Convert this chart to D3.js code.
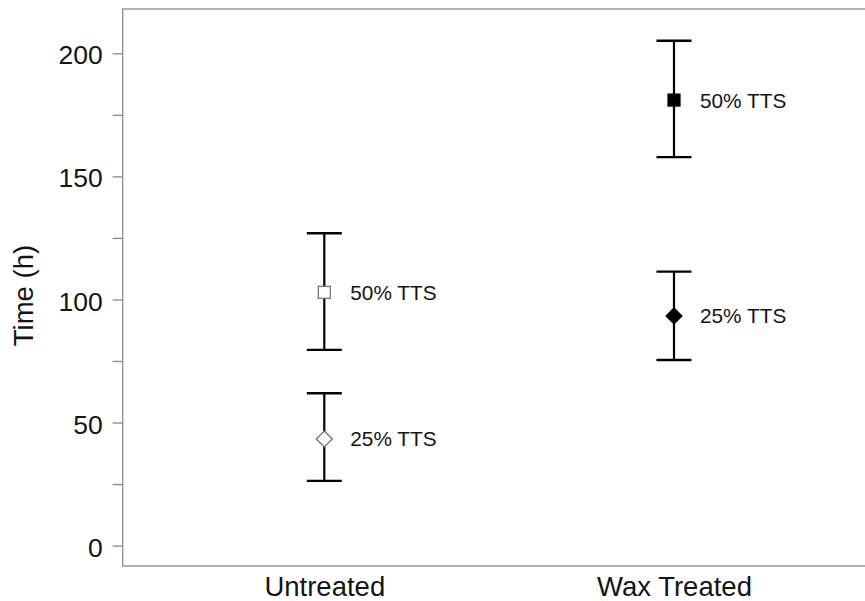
<!DOCTYPE html>
<html>
<head>
<meta charset="utf-8">
<script src="https://cdn.jsdelivr.net/npm/d3@7/dist/d3.min.js"></script>
<style>
  html, body { margin: 0; padding: 0; background: #fff; }
  svg { display: block; font-family: "Liberation Sans", Arial, sans-serif; }
</style>
</head>
<body>
<svg id="chart" width="865" height="601"></svg>
<script>
// Treatment groups along the x axis
const groups = ["Untreated", "Wax Treated"];

// Time to 50% and 25% TTS (hours): point estimate with lower/upper interval
const tts50Mean  = [102.9, 181.0];
const tts50Lower = [79.5, 157.8];
const tts50Upper = [126.9, 205.1];

const tts25Mean  = [43.3, 93.3];
const tts25Lower = [26.3, 75.4];
const tts25Upper = [61.9, 111.3];

const seriesLabels = ["50% TTS", "25% TTS"];

// Y axis ticks: labelled majors and unlabelled minors
const majorTicks = [0, 50, 100, 150, 200];
const minorTicks = [25, 75, 125, 175];

const svg = d3.select("#chart");

const box = { left: 122.7, top: 9, right: 875.6, bottom: 566 };

const x = d3.scaleLinear().domain([0.4235, 2.5765]).range([box.left, box.right]);
const y = d3.scaleLinear().domain([-8.3, 218]).range([box.bottom, box.top]);

const axisColor = "#8a8a8a";
const textColor = "#141414";

// Plot frame (top, left, bottom, right)
svg.append("rect")
  .attr("x", box.left).attr("y", box.top)
  .attr("width", box.right - box.left).attr("height", box.bottom - box.top)
  .attr("fill", "none").attr("stroke", axisColor).attr("stroke-width", 1.3);

// Y axis ticks
const yAxis = d3.axisLeft(y)
  .tickValues(majorTicks.concat(minorTicks))
  .tickSize(10)
  .tickPadding(10)
  .tickFormat(d => majorTicks.includes(d) ? d3.format("d")(d) : "");

const gy = svg.append("g")
  .attr("transform", `translate(${box.left},0)`)
  .call(yAxis);
gy.select(".domain").remove();
gy.selectAll(".tick line").attr("stroke", axisColor).attr("stroke-width", 1.3);
gy.selectAll(".tick text")
  .attr("fill", textColor)
  .style("font-size", "26.5px")
  .attr("dy", "0.4em");

// X axis category labels
const gx = svg.append("g")
  .attr("transform", `translate(0,${box.bottom})`)
  .call(d3.axisBottom(x).tickValues([1, 2]).tickSize(0).tickPadding(24)
    .tickFormat((d, i) => groups[i]));
gx.select(".domain").remove();
gx.selectAll(".tick text")
  .attr("fill", textColor)
  .style("font-size", "27.5px")
  .attr("dy", "0.2em");

// Y axis title
svg.append("text")
  .attr("transform", `translate(33,${(box.top + box.bottom) / 2 + 8}) rotate(-90)`)
  .attr("text-anchor", "middle")
  .attr("fill", textColor)
  .style("font-size", "27.5px")
  .text("Time (h)");

// Build rows for both series
const rows = [];
groups.forEach((g, i) => {
  rows.push({ pos: i + 1, mean: tts50Mean[i], lo: tts50Lower[i], hi: tts50Upper[i],
              shape: "square", filled: i === 1, label: seriesLabels[0] });
  rows.push({ pos: i + 1, mean: tts25Mean[i], lo: tts25Lower[i], hi: tts25Upper[i],
              shape: "diamond", filled: i === 1, label: seriesLabels[1] });
});

const capHalf = 17.5;
const bars = svg.append("g");

rows.forEach(r => {
  const cx = x(r.pos);
  // vertical whisker
  bars.append("line")
    .attr("x1", cx).attr("x2", cx)
    .attr("y1", y(r.lo)).attr("y2", y(r.hi))
    .attr("stroke", "#000").attr("stroke-width", 2.2);
  // caps
  [r.lo, r.hi].forEach(v => {
    bars.append("line")
      .attr("x1", cx - capHalf).attr("x2", cx + capHalf)
      .attr("y1", y(v)).attr("y2", y(v))
      .attr("stroke", "#000").attr("stroke-width", 2.4);
  });
  // point marker
  const cy = y(r.mean);
  if (r.shape === "square") {
    bars.append("rect")
      .attr("x", cx - 6).attr("y", cy - 6)
      .attr("width", 12).attr("height", 12)
      .attr("fill", r.filled ? "#000" : "#fff")
      .attr("stroke", r.filled ? "#000" : "#6e6e6e")
      .attr("stroke-width", 1.2);
  } else {
    const h = 8;
    bars.append("path")
      .attr("d", `M${cx},${cy - h}L${cx + h},${cy}L${cx},${cy + h}L${cx - h},${cy}Z`)
      .attr("fill", r.filled ? "#000" : "#fff")
      .attr("stroke", r.filled ? "#000" : "#6e6e6e")
      .attr("stroke-width", 1.2);
  }
  // series label
  bars.append("text")
    .attr("x", cx + 26).attr("y", cy)
    .attr("dy", "0.36em")
    .attr("fill", textColor)
    .style("font-size", "20.8px")
    .text(r.label);
});
</script>
</body>
</html>
